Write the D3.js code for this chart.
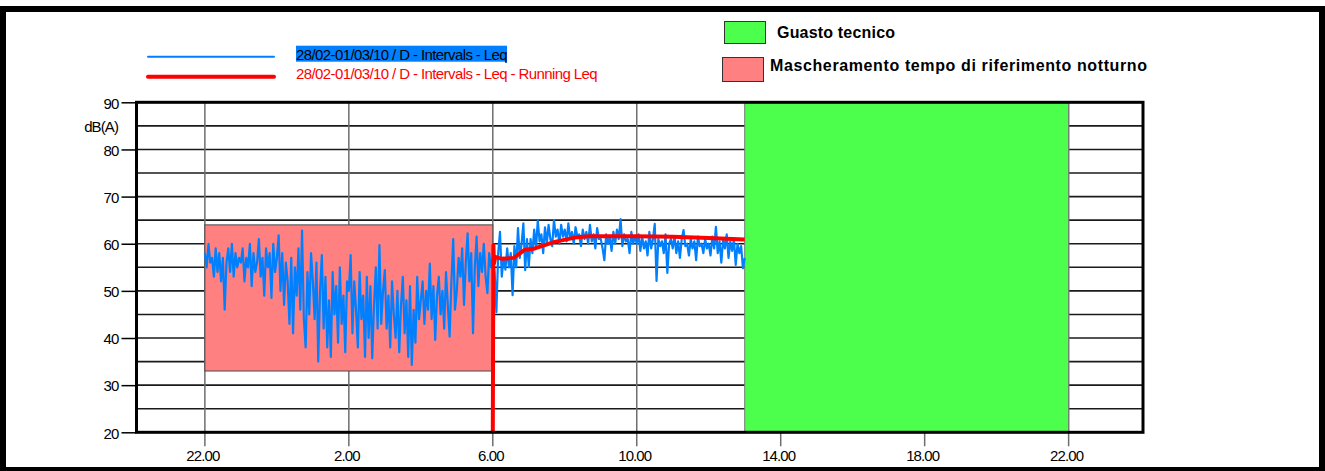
<!DOCTYPE html>
<html>
<head>
<meta charset="utf-8">
<script src="https://cdn.jsdelivr.net/npm/d3@7"></script>
<style>
  body { margin: 0; background: #fff; }
  svg { display: block; font-family: "Liberation Sans", Arial, sans-serif; }
</style>
</head>
<body>
<div id="chart"></div>
<script>
// ---- data ----
const seriesStart = "2010-02-28T22:00";
const stepMinutes = 3;

// Leq, one row per hour (3 minute intervals), 22:00 -> 13:00
const leqValues = [
  58, 55, 60, 56, 57, 53, 59, 54, 58, 52, 57, 46, 56, 59, 54, 60, 53, 58, 55, 57,
  56, 59, 52, 57, 55, 60, 51, 58, 54, 56, 61, 53, 57, 49, 59, 55, 58, 48.5, 60, 54,
  57, 61.8, 50, 58, 47, 56, 52, 43, 57, 41, 55, 49, 59, 46, 62.8, 44, 38, 54, 45, 58,
  52, 44, 56, 35, 50, 57.6, 42, 53, 38, 48, 36, 54, 45, 51, 39, 55, 43, 49, 37, 52,
  50, 57.6, 41, 52, 46, 38, 54, 44, 49, 36, 53, 40, 51, 35.7, 47, 55, 42, 59.7, 43, 50,
  54.4, 42, 49, 38, 52, 45, 40, 50, 37, 47, 53, 41, 48, 36, 51, 34.3, 46, 39, 53, 44,
  48, 52, 43, 50, 46, 55.8, 44, 51, 39.6, 49, 53, 45, 50, 42, 54, 47, 40.3, 52, 61, 46,
  50, 57, 53, 59, 47, 56, 62.2, 52, 58, 41, 55, 61.5, 51, 58, 54, 60, 53, 49.5, 58, 55,
  57, 54, 45.5, 58, 62.5, 53, 57, 54.5, 59, 55, 58, 49.1, 59.5, 55, 63.3, 57, 60, 64.3, 54.4, 61,
  55.1, 61, 58, 63, 59, 64.9, 60.5, 62, 58, 63.5, 60, 64, 61, 59.5, 65, 61.5, 63, 60, 64, 61.5,
  63, 60.5, 64.3, 61, 62.5, 60, 63.5, 61.5, 62, 59.5, 63, 61, 62.5, 60, 64, 60.5, 62, 59, 63.3, 61,
  61, 59, 56.5, 62, 60, 61.5, 58.5, 62.5, 60, 63, 61, 65.2, 59.5, 62, 60.5, 61, 58, 62.5, 60, 61.5,
  60, 62, 58.5, 61.5, 59, 60.5, 57.5, 62.5, 59, 61, 64.2, 52.1, 61, 59.5, 60.5, 58, 62, 53.8, 60, 61,
  59, 61.5, 58, 60.5, 57, 61, 62.9, 59.5, 60, 57.5, 61, 59, 60.5, 56.5, 61.5, 59.5, 60, 58, 61, 59,
  60, 57.5, 61.5, 59, 63.6, 58, 60.5, 56, 61, 59, 62, 57, 60.5, 58.5, 61, 55.5, 60, 58, 59.5, 54.8,
  57
];

const runningTimes = ["2010-03-01T06:00", "2010-03-01T06:01", "2010-03-01T06:02", "2010-03-01T06:04",
  "2010-03-01T06:15", "2010-03-01T06:35", "2010-03-01T06:53", "2010-03-01T07:10", "2010-03-01T07:43",
  "2010-03-01T08:17", "2010-03-01T08:40", "2010-03-01T10:00", "2010-03-01T11:00", "2010-03-01T12:00",
  "2010-03-01T13:00"];
const runningValues = [20, 59.7, 55.8, 57.2, 56.8, 57.0, 58.7, 59.0, 60.4, 61.3, 61.6, 61.6, 61.5, 61.2, 60.9];

const faultPeriod = ["2010-03-01T13:00", "2010-03-01T22:00"];
const nightMask = ["2010-02-28T22:00", "2010-03-01T06:00"];
const nightMaskDb = [33, 64];

const xDomain = ["2010-02-28T20:06", "2010-03-02T00:04"];
const yDomain = [20, 90];
const xTicks = ["2010-02-28T22:00", "2010-03-01T02:00", "2010-03-01T06:00", "2010-03-01T10:00",
  "2010-03-01T14:00", "2010-03-01T18:00", "2010-03-01T22:00"];
const yMajorTicks = [20, 30, 40, 50, 60, 70, 80, 90];
const yGridLines = [25, 30, 35, 40, 45, 50, 55, 60, 65, 70, 75, 80, 85];

const seriesLabels = ["28/02-01/03/10 / D - Intervals - Leq",
  "28/02-01/03/10 / D - Intervals - Leq - Running Leq"];
const maskLabels = ["Guasto tecnico", "Mascheramento tempo di riferimento notturno"];

// ---- chart ----
const width = 1325, height = 471;
const plot = {left: 136.5, right: 1143, top: 102.3, bottom: 432.3};

const colBlue = "#0080ff", colRed = "#ff0000", colGreen = "#4cff4c", colPink = "#ff8080";

const parse = d3.timeParse("%Y-%m-%dT%H:%M");
const fmt = d3.timeFormat("%-H.%M");

const x = d3.scaleTime().domain(xDomain.map(parse)).range([plot.left, plot.right]);
const y = d3.scaleLinear().domain(yDomain).range([plot.bottom, plot.top]);

const t0 = parse(seriesStart);
const leq = leqValues.map((v, i) => ({t: d3.timeMinute.offset(t0, i * stepMinutes), v: v}));
const running = runningTimes.map((t, i) => ({t: parse(t), v: runningValues[i]}));

const svg = d3.select("#chart").append("svg")
  .attr("width", width).attr("height", height);

svg.append("rect").attr("width", width).attr("height", height).attr("fill", "#fff");

svg.append("clipPath").attr("id", "clip")
  .append("rect")
  .attr("x", plot.left).attr("y", plot.top)
  .attr("width", plot.right - plot.left).attr("height", plot.bottom - plot.top);

// horizontal grid
svg.append("g")
  .selectAll("line")
  .data(yGridLines)
  .join("line")
  .attr("x1", plot.left).attr("x2", plot.right)
  .attr("y1", d => y(d)).attr("y2", d => y(d))
  .attr("stroke", "#1a1a1a").attr("stroke-width", 1.6);

// vertical grid + ticks below the axis
svg.append("g")
  .selectAll("line")
  .data(xTicks.map(parse))
  .join("line")
  .attr("x1", d => x(d)).attr("x2", d => x(d))
  .attr("y1", plot.top).attr("y2", plot.bottom + 14)
  .attr("stroke", "#6e6e6e").attr("stroke-width", 1.5);

// masks
const pink = nightMask.map(parse);
svg.append("rect")
  .attr("x", x(pink[0])).attr("width", x(pink[1]) - x(pink[0]))
  .attr("y", y(nightMaskDb[1])).attr("height", y(nightMaskDb[0]) - y(nightMaskDb[1]))
  .attr("fill", colPink).attr("stroke", "#4a4a4a").attr("stroke-width", 1);

const green = faultPeriod.map(parse);
svg.append("rect")
  .attr("x", x(green[0])).attr("width", x(green[1]) - x(green[0]))
  .attr("y", y(yDomain[1])).attr("height", y(yDomain[0]) - y(yDomain[1]))
  .attr("fill", colGreen).attr("stroke", "#777").attr("stroke-width", 1);

// series
const line = d3.line().x(d => x(d.t)).y(d => y(d.v));
const lines = svg.append("g").attr("clip-path", "url(#clip)");
lines.append("path").datum(leq)
  .attr("d", line).attr("fill", "none")
  .attr("stroke", colBlue).attr("stroke-width", 2.2).attr("stroke-linejoin", "round");
lines.append("path").datum(running)
  .attr("d", line).attr("fill", "none")
  .attr("stroke", colRed).attr("stroke-width", 4).attr("stroke-linejoin", "round");

// plot frame
svg.append("rect")
  .attr("x", plot.left).attr("y", plot.top)
  .attr("width", plot.right - plot.left).attr("height", plot.bottom - plot.top)
  .attr("fill", "none").attr("stroke", "#000").attr("stroke-width", 3);

// y axis
const yAxis = svg.append("g")
  .attr("transform", `translate(${plot.left},0)`)
  .call(d3.axisLeft(y).tickValues(yMajorTicks).tickSize(15).tickPadding(3).tickFormat(d3.format("d")));
yAxis.select(".domain").remove();
yAxis.selectAll(".tick line").attr("stroke", "#000").attr("stroke-width", 1.5);
yAxis.selectAll(".tick text")
  .attr("font-family", "Liberation Sans, Arial, sans-serif")
  .attr("font-size", 15).attr("fill", "#000")
  .attr("letter-spacing", "-0.8px").attr("dy", "0.38em");

svg.append("text")
  .attr("x", 118).attr("y", 131.5)
  .attr("text-anchor", "end").attr("font-size", 15)
  .attr("letter-spacing", "-0.9px")
  .text("dB(A)");

// x labels
svg.append("g")
  .selectAll("text")
  .data(xTicks.map(parse))
  .join("text")
  .attr("x", d => x(d) - 2).attr("y", 461)
  .attr("text-anchor", "middle").attr("font-size", 15)
  .attr("letter-spacing", "-0.9px")
  .text(d => fmt(d));

// series legend
const legend = svg.append("g");
const legendRows = [
  {label: seriesLabels[0], color: colBlue, w: 2, y: 56.7, base: 59.5},
  {label: seriesLabels[1], color: colRed, w: 4, y: 76.7, base: 79}
];
legendRows.forEach((r, i) => {
  legend.append("line")
    .attr("x1", 148).attr("x2", 274).attr("y1", r.y).attr("y2", r.y)
    .attr("stroke", r.color).attr("stroke-width", r.w).attr("stroke-linecap", "round");
  const txt = legend.append("text")
    .attr("x", 296).attr("y", r.base)
    .attr("font-size", 15).attr("letter-spacing", "-0.6px")
    .attr("fill", i === 0 ? "#000" : colRed)
    .text(r.label);
  if (i === 0) {
    const len = txt.node().getComputedTextLength();
    legend.insert("rect", "text")
      .attr("x", 296).attr("y", 45.7).attr("width", len).attr("height", 16)
      .attr("fill", colBlue);
  }
});

// mask legend
const maskRows = [
  {label: maskLabels[0], color: colGreen, bx: 724, by: 21, bh: 22, tx: 777, base: 38, len: 118},
  {label: maskLabels[1], color: colPink, bx: 722, by: 57, bh: 24, tx: 770, base: 71, len: 377}
];
maskRows.forEach(r => {
  svg.append("rect")
    .attr("x", r.bx + 0.5).attr("y", r.by + 0.5).attr("width", 41).attr("height", r.bh)
    .attr("fill", r.color).attr("stroke", "#333").attr("stroke-width", 1);
  svg.append("text")
    .attr("x", r.tx).attr("y", r.base)
    .attr("font-size", 16).attr("font-weight", "bold")
    .attr("textLength", r.len).attr("lengthAdjust", "spacing")
    .text(r.label);
});

// outer frame
svg.append("rect")
  .attr("x", 3).attr("y", 9).attr("width", 1319).attr("height", 461)
  .attr("fill", "none").attr("stroke", "#000").attr("stroke-width", 6);
</script>
</body>
</html>
